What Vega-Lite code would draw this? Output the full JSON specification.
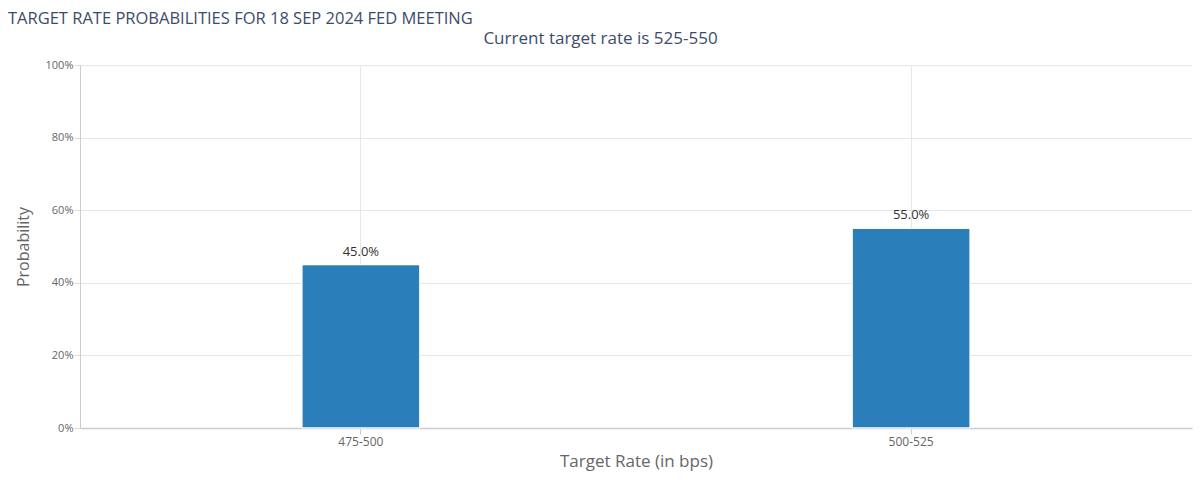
{
  "$schema": "https://vega.github.io/schema/vega-lite/v6.json",
  "width": 1112,
  "height": 363,
  "autosize": {"type": "none"},
  "padding": {"left": 80, "top": 65, "right": 8, "bottom": 66},
  "background": "white",
  "title": {
    "text": "TARGET RATE PROBABILITIES FOR 18 SEP 2024 FED MEETING",
    "anchor": "start",
    "frame": "group",
    "dx": -72,
    "dy": 17,
    "fontSize": 16.5,
    "fontWeight": "normal",
    "font": "Open Sans",
    "color": "#3d4b6b",
    "baseline": "alphabetic",
    "offset": 6
  },
  "data": {
    "values": [
      {"rate": "475-500", "prob": 0.45},
      {"rate": "500-525", "prob": 0.55}
    ]
  },
  "layer": [
    {
      "mark": {
        "type": "bar",
        "color": "#2a7fba",
        "size": 118,
        "cornerRadiusTopLeft": 2,
        "cornerRadiusTopRight": 2,
        "stroke": "#ffffff",
        "strokeWidth": 1
      },
      "encoding": {
        "x": {
          "field": "rate",
          "type": "nominal",
          "sort": null,
          "scale": {"paddingInner": 0, "paddingOuter": 0.0104},
          "axis": {
            "orient": "bottom",
            "labelAngle": 0,
            "labelFont": "Open Sans",
            "labelFontSize": 12,
            "labelColor": "#666666",
            "labelPadding": 2,
            "tickSize": 6,
            "tickColor": "#cccccc",
            "domainColor": "#cccccc",
            "domainWidth": 1.5,
            "grid": true,
            "gridColor": "#e6e6e6",
            "title": "Target Rate (in bps)",
            "titleFont": "Open Sans",
            "titleFontSize": 17,
            "titleFontWeight": "normal",
            "titleColor": "#666666",
            "titlePadding": 6
          }
        },
        "y": {
          "field": "prob",
          "type": "quantitative",
          "scale": {"domain": [0, 1]},
          "axis": {
            "values": [0, 0.2, 0.4, 0.6, 0.8, 1],
            "format": ".0%",
            "labelFont": "Open Sans",
            "labelFontSize": 11,
            "labelColor": "#666666",
            "labelPadding": 1,
            "tickSize": 6,
            "tickColor": "#dddddd",
            "domain": true,
            "domainColor": "#cccccc",
            "grid": true,
            "gridColor": "#e6e6e6",
            "title": "Probability",
            "titleFont": "Open Sans",
            "titleFontSize": 16,
            "titleFontWeight": "normal",
            "titleColor": "#666666",
            "titleX": -57,
            "titleBaseline": "middle"
          }
        }
      }
    },
    {
      "mark": {
        "type": "text",
        "dy": -13,
        "fontSize": 13,
        "font": "Open Sans",
        "color": "#333333"
      },
      "encoding": {
        "x": {
          "field": "rate",
          "type": "nominal",
          "sort": null,
          "axis": {
            "orient": "top",
            "labels": false,
            "ticks": false,
            "domain": false,
            "grid": false,
            "title": "Current target rate is 525-550",
            "titleFont": "Open Sans",
            "titleFontSize": 17,
            "titleFontWeight": "normal",
            "titleColor": "#3d4b6b",
            "titleX": 520,
            "titleY": -22,
            "titleAlign": "center",
            "titleBaseline": "alphabetic"
          }
        },
        "y": {"field": "prob", "type": "quantitative"},
        "text": {"field": "prob", "type": "quantitative", "format": ".1%"}
      }
    }
  ],
  "resolve": {"axis": {"x": "independent"}},
  "config": {"view": {"stroke": null}}
}
